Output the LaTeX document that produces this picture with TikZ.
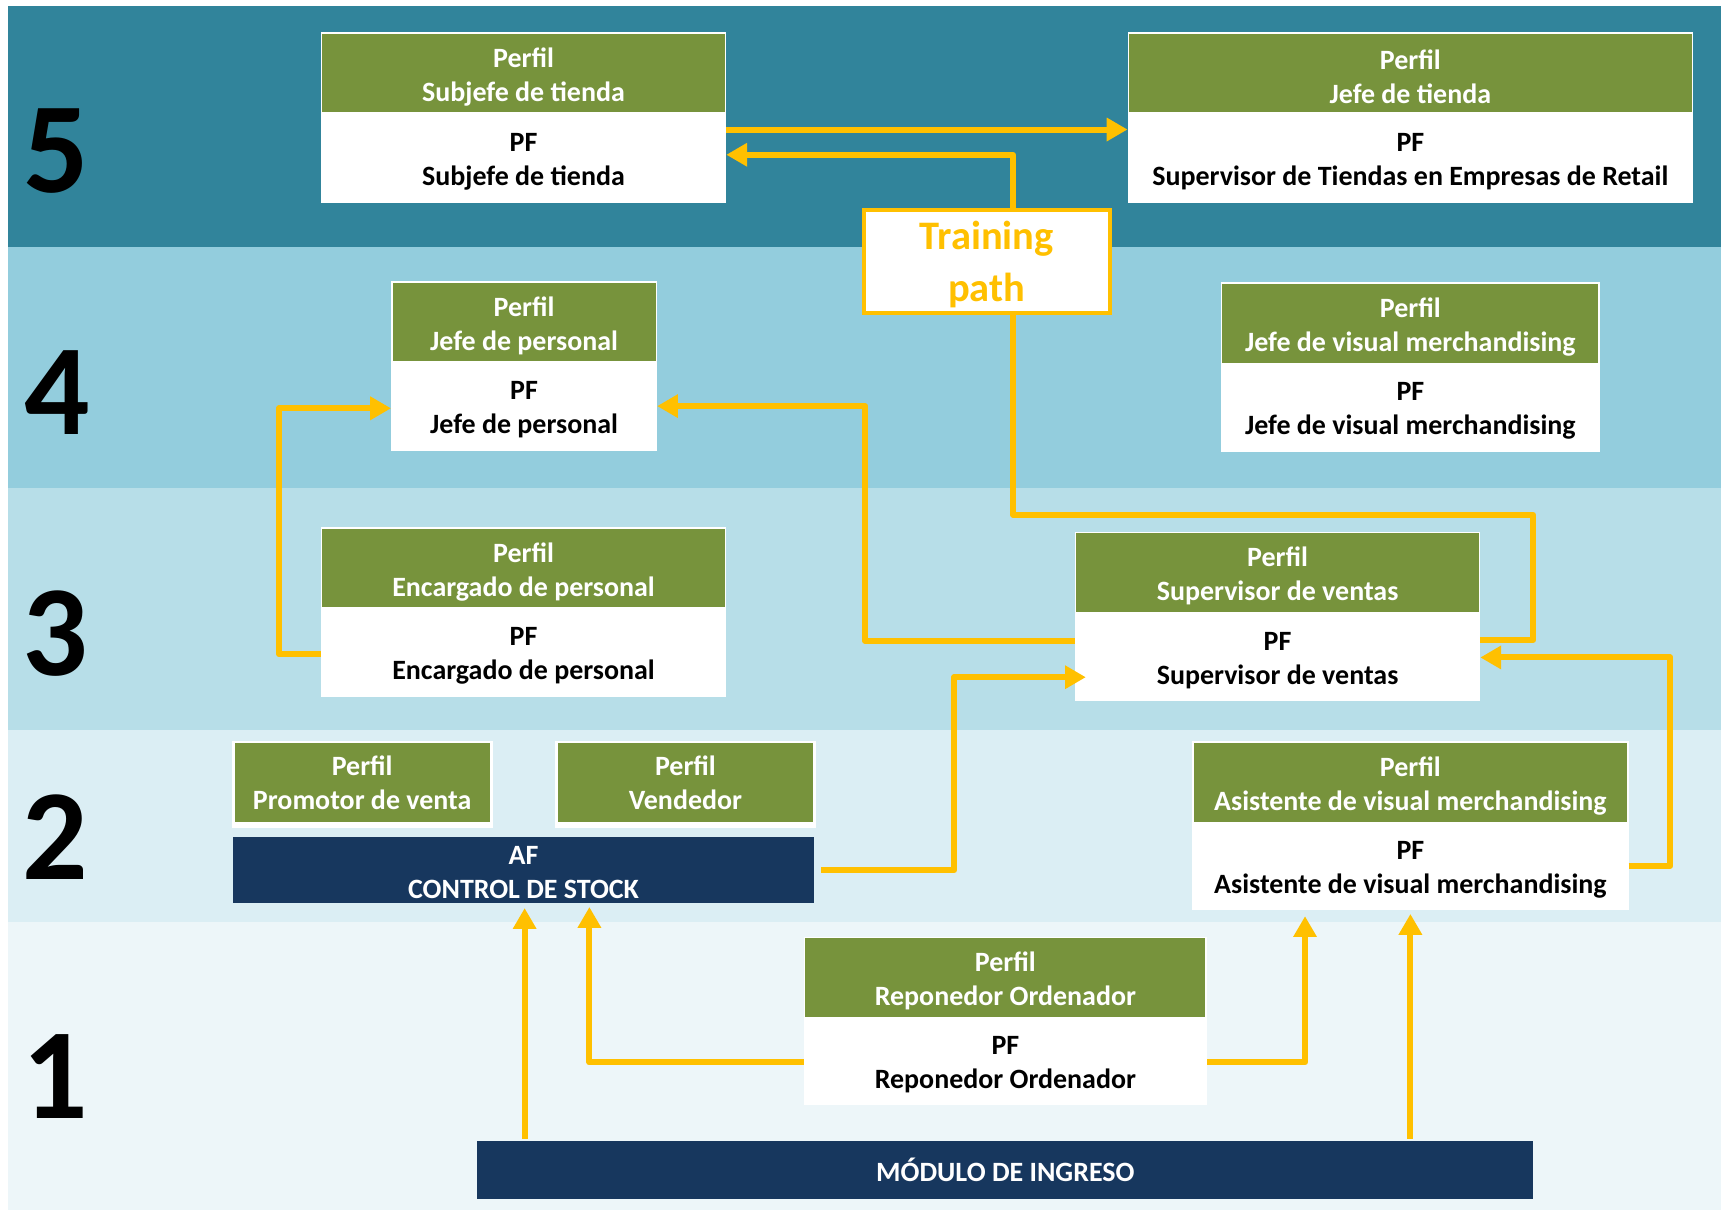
\documentclass[tikz,border=0pt]{standalone}
\usepackage{fontspec}
\setmainfont{Carlito}
\usetikzlibrary{arrows.meta,calc}

\definecolor{bandfive}{HTML}{31849B}
\definecolor{bandfour}{HTML}{93CDDD}
\definecolor{bandthree}{HTML}{B7DEE8}
\definecolor{bandtwo}{HTML}{DBEEF4}
\definecolor{bandone}{HTML}{EDF6F9}
\definecolor{hdrgreen}{HTML}{77933C}
\definecolor{navyblue}{HTML}{17375E}
\definecolor{routeorange}{HTML}{FFC000}

\newcommand\boxfont{\bfseries\fontsize{14.5}{17.6}\selectfont}
\newcommand\levelfont{\bfseries\fontsize{67}{67}\selectfont}
\newcommand\trainfont{\bfseries\fontsize{21}{26.5}\selectfont}

% two-part profile box: name, x1, x2, y-top, y-split, y-bottom, header text, body text
\newcommand\profilebox[8]{%
  \node[hdr, minimum width={(#3-#2)*0.02cm}, minimum height={(#5-#4)*0.02cm}]
    (#1h) at ({(#2+#3)/2},{(#4+#5)/2}) {};
  \node[bdy, minimum width={(#3-#2)*0.02cm}, minimum height={(#6-#5)*0.02cm}]
    (#1) at ({(#2+#3)/2},{(#5+#6)/2}) {};
  \node[boxtext, text=white] (#1hlabel) at ($(#1h.center)+(0,3.5)$) {Perfil\\#7};
  \node[boxtext, text=black] (#1label) at ($(#1.center)+(0,3.5)$) {PF\\#8};
}

\tikzset{
  hdr/.style={fill=hdrgreen, draw=white, line width=0.8pt, inner sep=0pt},
  bdy/.style={fill=white, draw=white, line width=0.8pt, inner sep=0pt},
  boxtext/.style={font=\boxfont, align=center, inner sep=0pt},
  navybox/.style={fill=navyblue, draw=none, inner sep=0pt},
  lvl/.style={font=\levelfont, text=black, inner sep=0pt},
  route/.style={draw=routeorange, line width=3.1pt, line join=round},
  route arrow/.style={route, -{Triangle[length=10.8pt,width=11.6pt]}},
}

\begin{document}
\begin{tikzpicture}[x=0.02cm,y=-0.02cm]
\useasboundingbox (0,0) rectangle (1568,1102);
\fill[white] (0,0) rectangle (1568,1102);

% level bands
\fill[bandfive]  (7,5.5) rectangle (1568,225);
\fill[bandfour]  (7,225) rectangle (1568,445);
\fill[bandthree] (7,445) rectangle (1568,665);
\fill[bandtwo]   (7,665) rectangle (1568,840);
\fill[bandone]   (7,840) rectangle (1568,1102);

% level numbers
\node[lvl] (l5) at (51,138) {5};
\node[lvl] (l4) at (52,358) {4};
\node[lvl] (l3) at (50,577) {3};
\node[lvl] (l2) at (50,763) {2};
\node[lvl] (l1) at (50,981) {1};

% profile boxes
\profilebox{subj}{293}{661}{30}{103}{184}{Subjefe de tienda}{Subjefe de tienda}
\profilebox{jefet}{1028}{1542}{30}{103}{184}{Jefe de tienda}{Supervisor de Tiendas en Empresas de Retail}
\profilebox{jper}{357}{598}{257}{330}{410}{Jefe de personal}{Jefe de personal}
\profilebox{jvis}{1113}{1457}{258}{331}{411}{Jefe de visual merchandising}{Jefe de visual merchandising}
\profilebox{enc}{293}{661}{481}{554}{634}{Encargado de personal}{Encargado de personal}
\profilebox{sup}{980}{1348}{485}{558}{638}{Supervisor de ventas}{Supervisor de ventas}
\profilebox{asis}{1087}{1483}{676}{750}{828}{Asistente de visual merchandising}{Asistente de visual merchandising}
\profilebox{rep}{733}{1099}{854}{927}{1006}{Reponedor Ordenador}{Reponedor Ordenador}

% header-only profiles
\fill[white] (211,675) rectangle (449,754);
\node[hdr, minimum width={234*0.02cm}, minimum height={73*0.02cm}] (prom) at (330,713) {};
\node[boxtext, text=white] (promlabel) at ($(prom.center)+(0,0.5)$) {Perfil\\Promotor de venta};
\fill[white] (506,675) rectangle (743,754);
\node[hdr, minimum width={233*0.02cm}, minimum height={73*0.02cm}] (vend) at (624.5,713) {};
\node[boxtext, text=white] (vendlabel) at ($(vend.center)+(0,0.5)$) {Perfil\\Vendedor};

% course modules
\node[navybox, minimum width={530*0.02cm}, minimum height={60*0.02cm}] (af) at (477,793) {};
\node[boxtext, text=white] (aflabel) at ($(af.center)+(0,2)$) {AF\\CONTROL DE STOCK};
\node[navybox, minimum width={962*0.02cm}, minimum height={52*0.02cm}] (mod) at (916,1066) {};
\node[boxtext, text=white] (modlabel) at ($(mod.center)+(0,0)$) {MÓDULO DE INGRESO};

% training path label
\node[fill=white, draw=routeorange, line width=2pt, inner sep=0pt,
  minimum width={224*0.02cm}, minimum height={94*0.02cm}] (train) at (899,238) {};
\node[font=\trainfont, text=routeorange, align=center, inner sep=0pt]
  (trainlabel) at ($(train.center)+(0,3)$) {Training\\path};

% connectors
\draw[route arrow] ($(subj.east)+(0,-25.5)$) -- ($(jefet.west)+(0,-25.5)$);
\draw[route arrow] ($(train.north)+(24,0)$) |- ($(subj.east)+(0,-2.5)$);
\coordinate (turn) at (1397,469);
\draw[route] ($(train.south)+(24,0)$) |- (turn) |- ($(sup.east)+(0,-15)$);
\draw[route arrow] ($(sup.west)+(0,-14)$) -- ++(-191,0) |- (jper.east);
\draw[route arrow] ($(enc.west)+(0,2)$) -- ++(-38,0) |- ($(jper.west)+(0,2)$);
\draw[route arrow] ($(af.east)+(6,0)$) -- ++(121,0) |- ($(sup.west)+(10,19)$);
\draw[route arrow] (asis.east) -- ++(38,0) |- ($(sup.east)+(0,1)$);
\draw[route arrow] ($(mod.north)+(-438,-2)$) -- ($(af.south)+(1,4)$);
\draw[route arrow] ($(rep.west)+(0,1.5)$) -| ($(af.south)+(60,3)$);
\draw[route arrow] ($(rep.east)+(0,1.5)$) -| ($(asis.south)+(-96,6)$);
\draw[route arrow] ($(mod.north)+(369,-2)$) -- ($(asis.south)+(0,4)$);
\end{tikzpicture}
\end{document}
